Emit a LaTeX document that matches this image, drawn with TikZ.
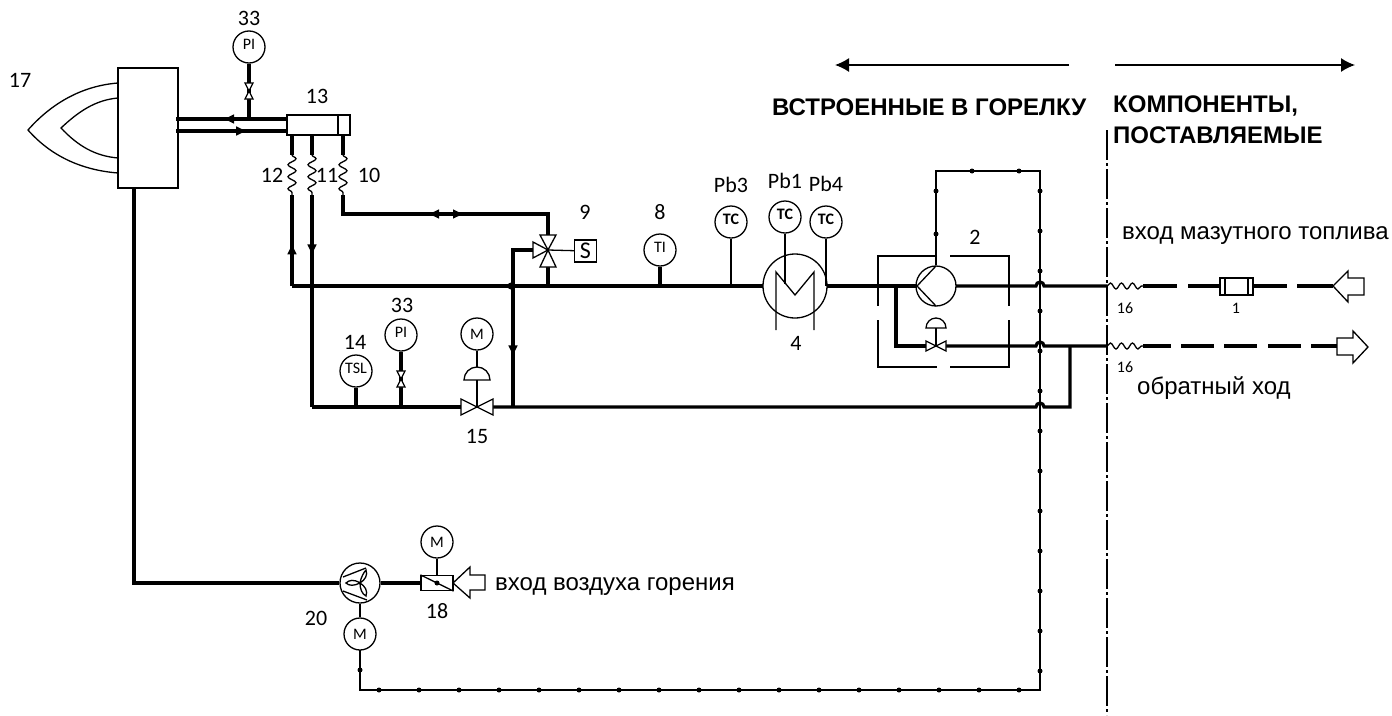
\documentclass[tikz,border=0pt]{standalone}
\usepackage{fontspec}
\setmainfont{Liberation Sans}
\newfontfamily\tagfont{Carlito}
\usetikzlibrary{arrows.meta,decorations.pathmorphing,decorations.markings}
\tikzset{
  pipe/.style={line width=3.2pt},
  wire/.style={line width=1.5pt},
  thin line/.style={line width=1.3pt},
  flow/.style={pipe,postaction={decorate},decoration={markings,mark=at position #1 with {\arrow{Latex[length=12pt,width=10pt]}}}},
  gauge/.style={circle,draw,line width=1.3pt,minimum size=32pt,inner sep=0pt,font=\tagfont\fontsize{16}{16}\selectfont},
  tag/.style={inner sep=0pt,font=\tagfont\fontsize{22}{22}\selectfont},
  small tag/.style={inner sep=0pt,font=\tagfont\fontsize{16}{16}\selectfont},
  caption/.style={inner sep=0pt,anchor=west,font=\fontsize{24}{24}\selectfont},
  heading/.style={inner sep=0pt,anchor=west,font=\bfseries\fontsize{24}{24}\selectfont},
  coil/.style={line width=1.3pt,decorate,decoration={snake,segment length=12pt,amplitude=4pt}},
  wave/.style={line width=1.3pt,decorate,decoration={snake,segment length=11pt,amplitude=3pt}},
  sig dot/.style={circle,fill,inner sep=0pt,minimum size=5pt}
}
\newcommand{\up}[1]{\raisebox{5pt}{#1}}
% bowtie valve, #1 centre, #2 half length, #3 half width
\newcommand{\vbow}[3]{%
  \draw[thin line,fill=white] (#1) ++(-#3,-#2) -- ++(2*#3,0) -- ++(-2*#3,2*#2) -- ++(2*#3,0) -- cycle;}
\newcommand{\hbow}[3]{%
  \draw[thin line,fill=white] (#1) ++(-#2,-#3) -- ++(0,2*#3) -- ++(2*#2,-2*#3) -- ++(0,2*#3) -- cycle;}
\newcommand{\dome}[2]{%
  \draw[thin line] (#1) ++(-#2,0) arc (180:360:#2) -- cycle;}
\begin{document}
\begin{tikzpicture}[x=1pt,y=-1pt]
  \useasboundingbox (0,0) rectangle (1392,715);

  % burner
  \node[draw,thin line,minimum width=60pt,minimum height=120pt,inner sep=0pt] (burner) at (148,128) {};
  \draw[thin line] (118,83) .. controls (80,86) and (50,105) .. (28,130) .. controls (50,155) and (80,170) .. (118,173);
  \draw[thin line] (118,98) .. controls (95,100) and (78,112) .. (61,128) .. controls (78,146) and (95,156) .. (118,158);
  \node[tag] (t17) at (20,80) {17};

  % manifold
  \node[draw,thin line,minimum width=63pt,minimum height=20pt,inner sep=0pt] (manifold) at (318.5,125) {};
  \draw[thin line] (338,115) -- (338,135);
  \node[tag] (t13) at (317,96) {13};
  \coordinate (mTop) at (287,119);
  \coordinate (bTop) at (176,119);
  \coordinate (mBot) at (287,131);
  \coordinate (bBot) at (176,131);
  \draw[flow=0.585] (mTop) -- (bTop);
  \draw[flow=0.65] (bBot) -- (mBot);
  \node[gauge] (pi1) at (249,47) {\up{PI}};
  \node[tag] (t33a) at (249,18) {33};
  \coordinate (piTee) at (249,119);
  \draw[pipe] (pi1) -- (piTee);
  \coordinate (v1) at (249,91);
  \vbow{v1}{8}{4}

  % hoses
  \foreach \x in {292,312,343} {
    \draw[pipe] (\x,135) -- (\x,155);
    \draw[coil] (\x,155) -- (\x,195);
  }
  \node[tag] (t12) at (272,175) {12};
  \node[tag] (t11) at (327,175) {11};
  \node[tag] (t10) at (369,175) {10};

  % main lines
  \draw[flow=0.48] (292,286) -- (292,195);
  \draw[flow=0.29] (312,195) -- (312,407);
  \draw[pipe] (292,286) -- (764,286);
  \draw[pipe] (312,407) -- (461,407);
  \draw[pipe] (493,407) -- (1036,407) arc (180:360:4) -- (1070,407) -- (1070,346);
  \draw[flow=0.59] (513,286) -- (513,407);
  \fill (511,286) circle (3.5);

  % three way valve
  \coordinate (v9) at (548,250);
  \draw[pipe] (343,195) -- (343,214) -- (548,214) -- (548,235);
  \draw[pipe,-{Latex[length=12pt,width=10pt]}] (446,214) -- (427,214);
  \draw[pipe,-{Latex[length=12pt,width=10pt]}] (446,214) -- (465,214);
  \draw[pipe] (548,267) -- (548,286);
  \draw[pipe] (533,250) -- (513,250) -- (513,286);
  \draw[thin line,fill=white] (v9) -- (540,235) -- (556,235) -- cycle;
  \draw[thin line,fill=white] (v9) -- (540,267) -- (556,267) -- cycle;
  \draw[thin line,fill=white] (v9) -- (533,242) -- (533,258) -- cycle;
  \node[draw,thin line,minimum size=22pt,inner sep=0pt,font=\tagfont\fontsize{24}{24}\selectfont] (sol) at (585.5,251) {S};
  \draw[thin line] (v9) -- (sol);
  \node[tag] (t9) at (585,212) {9};

  % instruments on main line
  \node[gauge] (ti) at (660,250) {\up{TI}};
  \node[tag] (t8) at (660,212) {8};
  \draw[pipe] (ti) -- (660,286);
  \node[gauge,font=\bfseries\tagfont\fontsize{16}{16}\selectfont] (tc3) at (731,222) {\up{TC}};
  \node[gauge,font=\bfseries\tagfont\fontsize{16}{16}\selectfont] (tc1) at (785,217) {\up{TC}};
  \node[gauge,font=\bfseries\tagfont\fontsize{16}{16}\selectfont] (tc4) at (826,222) {\up{TC}};
  \node[tag] (pb3) at (731,185) {Pb3};
  \node[tag] (pb1) at (785,181) {Pb1};
  \node[tag] (pb4) at (826,184) {Pb4};
  \draw[thin line] (tc3) -- (731,286);

  % heater
  \node[circle,draw,thin line,fill=white,minimum size=64pt,inner sep=0pt] (heater) at (795,286) {};
  \draw[thin line] (776,330) -- (776,272) -- (795,295) -- (814,272) -- (814,330);
  \draw[thin line] (tc1) -- (785,284);
  \draw[thin line] (tc4) -- (826,286);
  \node[tag] (t4) at (796,343) {4};

  % lower instruments
  \node[gauge] (tsl) at (356,371) {\up{TSL}};
  \node[tag] (t14) at (355,342) {14};
  \draw[pipe] (tsl) -- (356,407);
  \node[gauge] (pi2) at (401,335) {\up{PI}};
  \node[tag] (t33b) at (402,305) {33};
  \draw[pipe] (pi2) -- (401,407);
  \coordinate (v2) at (401,379);
  \vbow{v2}{8}{4}
  \node[gauge] (m15) at (477,334) {M};
  \coordinate (v15) at (477,407);
  \hbow{v15}{16}{8}
  \coordinate (d15) at (477,380);
  \dome{d15}{13}
  \draw[thin line] (m15) -- (477,367);
  \draw[thin line] (d15) -- (v15);
  \node[tag] (t15) at (477,436) {15};

  % pump
  \node[circle,draw,thin line,minimum size=40pt,inner sep=0pt] (pump) at (936,286) {};
  \draw[thin line] (936,266) -- (917,286) -- (936,306);
  \draw[pipe] (827,286) -- (917,286);
  \draw[pipe] (956,286) -- (1036,286) arc (180:360:4) -- (1107,286);
  \draw[pipe] (896,286) -- (896,346) -- (927,346);
  \draw[pipe] (945,346) -- (1036,346) arc (180:360:4) -- (1107,346);
  \coordinate (v2b) at (936,346);
  \hbow{v2b}{10}{5}
  \coordinate (d2) at (936,328);
  \dome{d2}{10}
  \draw[thin line] (d2) -- (v2b);
  \draw[thin line] (937,256) -- (878,256) -- (878,306) (878,320) -- (878,367) -- (937,367);
  \draw[thin line] (950,256) -- (1009,256) -- (1009,306) (1009,320) -- (1009,367) -- (950,367);
  \node[tag] (t2) at (975,237) {2};

  % signal line
  \coordinate (sigA) at (936,171);
  \coordinate (sigB) at (1040,171);
  \coordinate (sigC) at (1040,690);
  \coordinate (sigD) at (360,690);
  \draw[wire] (pump.north) -- (sigA) -- (sigB) -- (sigC) -- (sigD) -- (360,650);
  \foreach \y in {191,234}
    \node[sig dot] at (936,\y) {};
  \foreach \x in {972,1019}
    \node[sig dot] at (\x,171) {};
  \foreach \y in {191,231,...,680}
    \node[sig dot] at (1040,\y) {};
  \foreach \x in {379,419,...,1030}
    \node[sig dot] at (\x,690) {};
  \node[sig dot] at (360,670) {};

  % boundary
  \draw[thin line,dash pattern=on 30pt off 3pt on 3pt off 3pt] (1107,130) -- (1107,715);
  \draw[line width=1.5pt,-{Latex[length=14pt,width=14pt]}] (1069,65) -- (835,65);
  \draw[line width=1.5pt,-{Latex[length=14pt,width=14pt]}] (1115,65) -- (1355,65);
  \node[heading] (h1) at (772,107) {ВСТРОЕННЫЕ В ГОРЕЛКУ};
  \node[heading] (h2) at (1113,106) {КОМПОНЕНТЫ,};
  \node[heading] (h3) at (1113,135) {ПОСТАВЛЯЕМЫЕ};

  % fuel in and return
  \draw[wave] (1107,286) -- (1143,286);
  \draw[wave] (1107,346) -- (1143,346);
  \node[small tag] (t16a) at (1125,308) {16};
  \node[small tag] (t16b) at (1125,367) {16};
  \foreach \a/\b in {1143/1177,1188/1220,1253/1287,1297/1333}
    \draw[pipe] (\a,286) -- (\b,286);
  \foreach \a/\b in {1143/1171,1181/1214,1224/1257,1268/1301,1311/1337}
    \draw[pipe] (\a,346) -- (\b,346);
  \node[draw,thin line,minimum width=33pt,minimum height=17pt,inner sep=0pt] (filter) at (1236.5,286.5) {};
  \draw[thin line] (1225,278) -- (1225,295) (1248,278) -- (1248,295);
  \node[small tag] (t1) at (1236,308) {1};
  \draw[thin line] (1333,286) -- (1348,271) -- (1348,278) -- (1364,278) -- (1364,295) -- (1348,295) -- (1348,302) -- cycle;
  \draw[thin line] (1337,338) -- (1353,338) -- (1353,331) -- (1368,347) -- (1353,363) -- (1353,355) -- (1337,355) -- cycle;
  \node[caption] (fuelin) at (1122,236) {вход мазутного топлива};
  \node[caption] (ret) at (1137,388) {обратный ход};

  % air
  \node[circle,draw,thin line,minimum size=40pt,inner sep=0pt] (fan) at (360,583) {};
  \draw[thin line] (343,577) -- (366,568) (343,591) -- (367,600);
  \draw[thin line,fill=white] (360,583) .. controls (354,579) and (349,580) .. (346,583) .. controls (349,586) and (354,586) .. (360,583)
    .. controls (361,577) and (364,572) .. (366,570) .. controls (368,575) and (365,580) .. (360,583)
    .. controls (365,586) and (368,591) .. (366,596) .. controls (362,594) and (360,589) .. (360,583);
  \node[gauge] (mfan) at (360,634) {M};
  \draw[thin line] (fan) -- (mfan);
  \draw[thin line] (mfan) -- (360,650);
  \coordinate (bOut) at (134,188);
  \draw[pipe] (bOut) -- (134,583) -- (fan.west);
  \node[draw,thin line,minimum width=32pt,minimum height=15pt,inner sep=0pt] (damper) at (437,583) {};
  \draw[pipe] (fan.east) -- (damper.west);
  \draw[thin line] (damper.north west) -- (damper.south east);
  \fill (437,583) circle (2.5);
  \node[gauge] (m18) at (437,542) {M};
  \draw[thin line] (m18) -- (damper);
  \draw[thin line] (453,583) -- (470,567) -- (470,575) -- (485,575) -- (485,590) -- (470,590) -- (470,598) -- cycle;
  \node[caption] (airin) at (495,587) {вход воздуха горения};
  \node[tag] (t20) at (316,618) {20};
  \node[tag] (t18) at (437,611) {18};
\end{tikzpicture}
\end{document}
